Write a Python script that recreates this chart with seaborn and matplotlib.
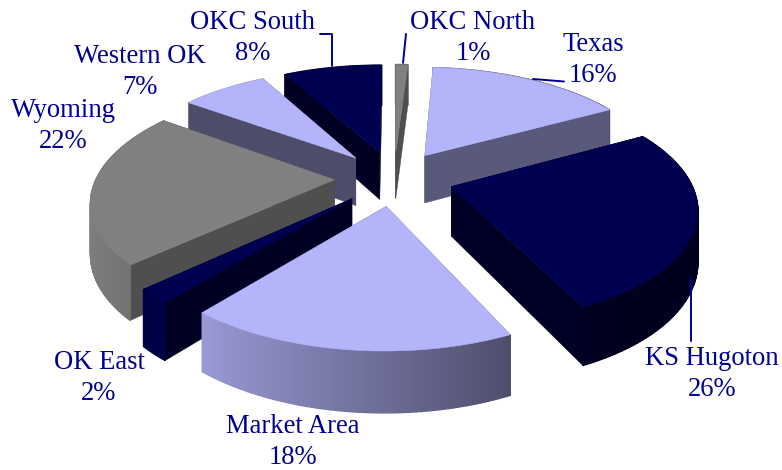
import numpy as np
import matplotlib
matplotlib.use("Agg")
import matplotlib.pyplot as plt
from matplotlib.patches import Polygon
import seaborn as sns

names = ["OKC North", "Texas", "KS Hugoton", "Market Area", "OK East", "Wyoming", "Western OK", "OKC South"]
shares = [1, 16, 26, 18, 2, 22, 7, 8]
tops = ["#808080", "#B4B4FA", "#000050", "#B4B4FA", "#000050", "#808080", "#B4B4FA", "#000050"]
label_xy = [(473, 38), (593, 60), (712, 374), (293, 442), (99, 378), (63, 126), (140, 72), (253, 38)]

sns.set_theme(style="white")
plt.rcParams["font.family"] = ["Liberation Serif", "DejaVu Serif"]

fig, ax = plt.subplots(figsize=(7.82, 4.70), dpi=100)
ax.set_position([0, 0, 1, 1])
ax.set_xlim(0, 782)
ax.set_ylim(470, 0)
ax.axis("off")

CX, CY, R, EXPL, B, K, H = 394, 178, 238, 0.25, 0.461, 0.167, 49


def project(u, v, z=0.0):
    s = 1 / (1 + K * v)
    return CX + R * u * s, CY - R * B * v * s + H * z * s


def shade(hexcol, f):
    rgb = np.array(matplotlib.colors.to_rgb(hexcol))
    return tuple(np.clip(rgb * f, 0, 1))


def outer_factor(theta):
    # lighter facing left, darker facing right (theta clockwise from north)
    return max(0.38, 0.60 - 0.40 * np.sin(theta))


edges = np.cumsum([0] + shares) / sum(shares) * 2 * np.pi
order = sorted(range(len(shares)), key=lambda i: -np.cos((edges[i] + edges[i + 1]) / 2))

for i in order:
    a0, a1 = edges[i], edges[i + 1]
    mid = (a0 + a1) / 2
    tu, tv = EXPL * np.sin(mid), EXPL * np.cos(mid)
    th = np.linspace(a0, a1, max(8, int(shares[i] * 4)))
    au, av = tu + np.sin(th), tv + np.cos(th)
    col = tops[i]
    faces = []
    for edge, eu, ev in ((a0, au[0], av[0]), (a1, au[-1], av[-1])):
        q = [project(tu, tv), project(eu, ev), project(eu, ev, 1), project(tu, tv, 1)]
        fac = 0.62 if col == "#808080" else 0.46 + 0.04 * np.sin(edge)
        faces.append(((tv + ev) / 2, q, shade(col, fac), 0.3))
    for j in range(len(th) - 1):
        q = [project(au[j], av[j]), project(au[j + 1], av[j + 1]),
             project(au[j + 1], av[j + 1], 1), project(au[j], av[j], 1)]
        faces.append(((av[j] + av[j + 1]) / 2, q, shade(col, outer_factor((th[j] + th[j + 1]) / 2)), 1.0))
    for _, q, c, w in sorted(faces, key=lambda f: -f[0]):
        ax.add_patch(Polygon(q, closed=True, fc=c, ec=c, lw=w, zorder=2))
    top = [project(tu, tv)] + [project(a, b) for a, b in zip(au, av)]
    ax.add_patch(Polygon(top, closed=True, fc=col, ec=col, lw=0.4, zorder=2))

TXT = "#000090"
for name, share, (x, y) in zip(names, shares, label_xy):
    ax.text(x, y, f"{name}\n{share}%", ha="center", va="center", fontsize=19.2,
            color=TXT, linespacing=1.32, zorder=5)

ax.plot([320, 332, 332], [34, 34, 66], color=TXT, lw=1.4, zorder=4)
ax.plot([406, 403], [34, 63], color=TXT, lw=1.4, zorder=4)
ax.plot([533, 564], [79, 81.5], color=TXT, lw=1.4, zorder=4)
ax.plot([691, 691], [278, 341], color=TXT, lw=1.4, zorder=4)

fig.savefig("out.png", dpi=100, facecolor="white")
